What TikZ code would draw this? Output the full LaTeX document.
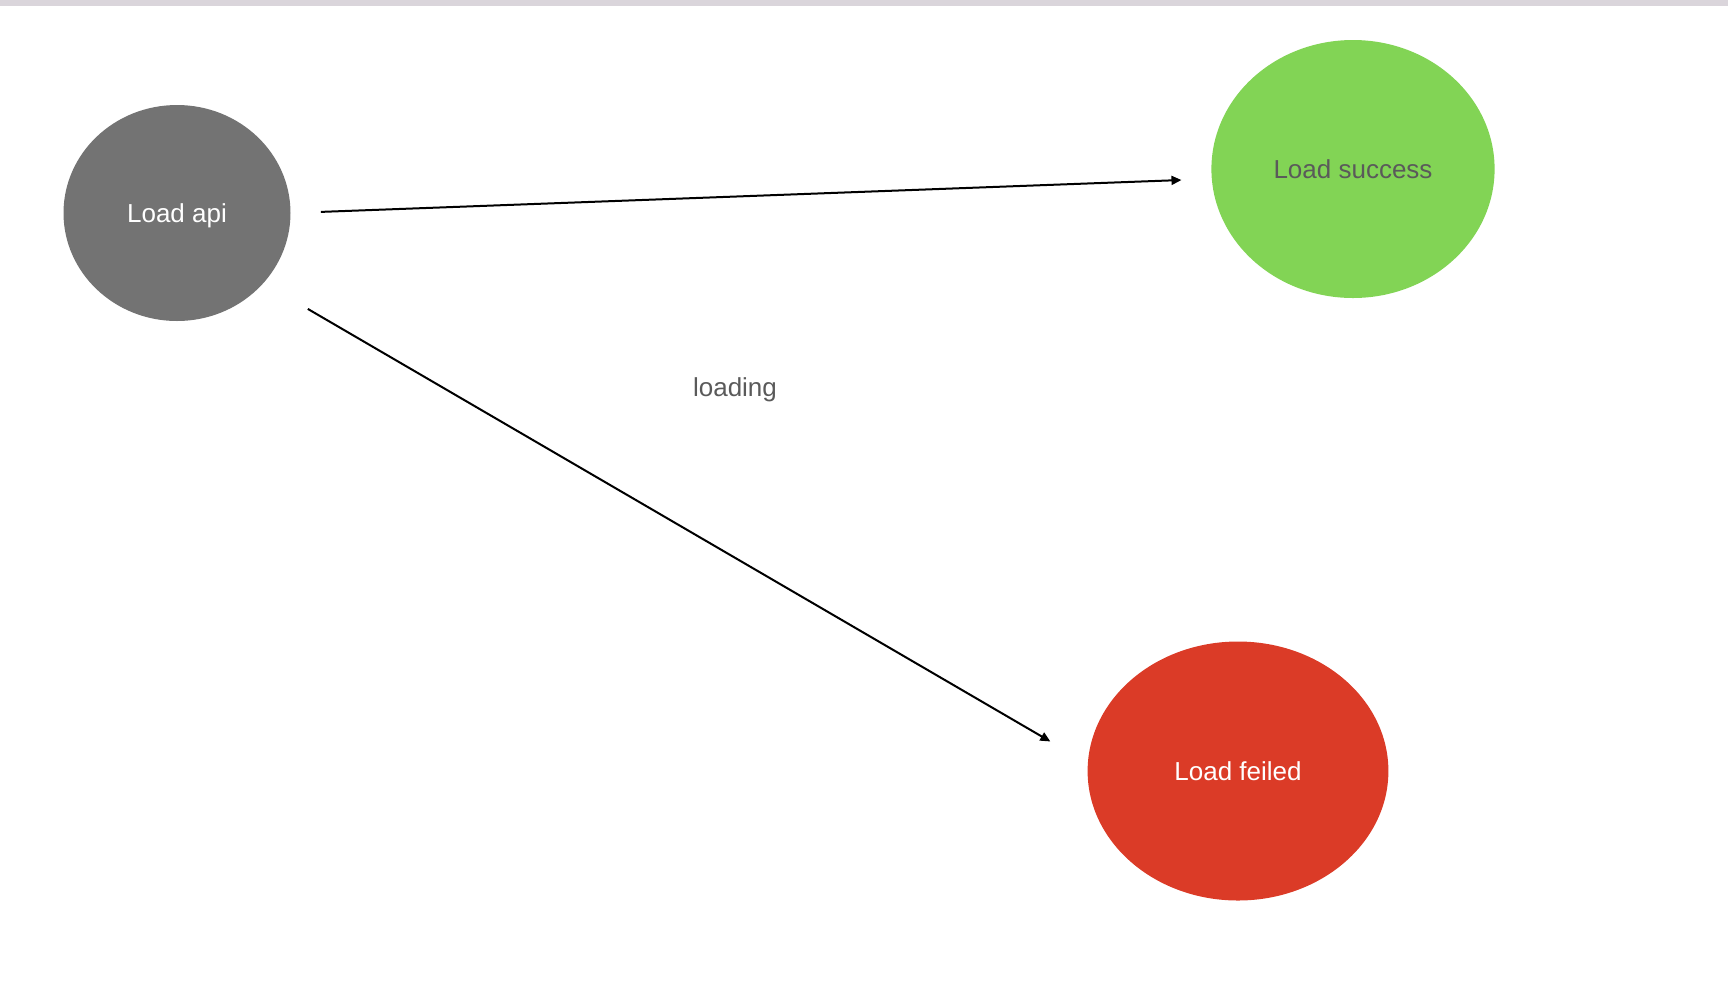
\documentclass[tikz,border=0pt]{standalone}
\usepackage{fontspec}
\setmainfont{Liberation Sans}
\usetikzlibrary{shapes.geometric,arrows.meta}

\definecolor{apigray}{HTML}{737373}
\definecolor{okgreen}{HTML}{82D455}
\definecolor{failred}{HTML}{DB3B27}
\definecolor{labelgray}{HTML}{5A5A5A}
\definecolor{barcolor}{HTML}{DAD5DB}

\begin{document}
\begin{tikzpicture}[
        x=0.5pt, y=-0.5pt,
        staat/.style={ellipse, inner sep=0pt, text depth=0pt, font=\fontsize{13pt}{15pt}\selectfont},
        pijl/.style={line width=1pt, -{Triangle[length=5pt,width=4.5pt]}}
    ]
        \useasboundingbox (0,0) rectangle (1728,992);
        \fill[barcolor] (0,0) rectangle (1728,6);
        \node[staat, fill=apigray, text=white, minimum width=113.5pt, minimum height=108pt] (api) at (177,213) {Load api};
        \node[staat, fill=okgreen, text=labelgray, minimum width=141.6pt, minimum height=129pt] (success) at (1353,169) {Load success};
        \node[staat, fill=failred, text=white, minimum width=150.4pt, minimum height=129.5pt] (feiled) at (1238,771) {Load feiled};
        \node[text=labelgray, text depth=0pt, font=\fontsize{13pt}{15pt}\selectfont] (loading) at (735,387) {loading};
        \draw[pijl, shorten <=15pt, shorten >=15pt] (api.east) -- (success.184);
        \draw[pijl, shorten <=25.5pt, shorten >=21.5pt] (api.-39) -- (feiled.177.5);
    \end{tikzpicture}
\end{document}
